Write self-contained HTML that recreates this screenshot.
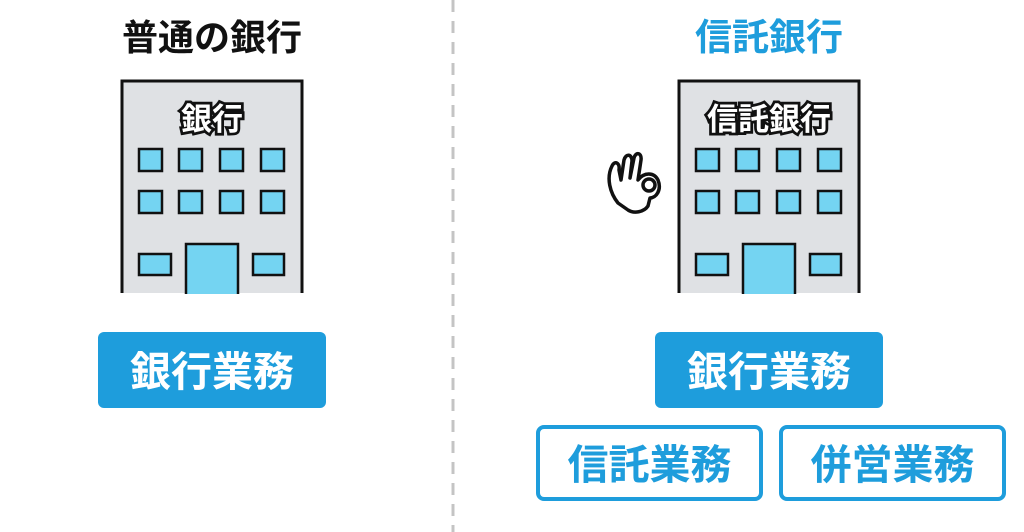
<!DOCTYPE html>
<html><head><meta charset="utf-8"><style>
html,body{margin:0;padding:0;background:#fff;}
svg{display:block;}
text{font-family:"Liberation Sans","Noto Sans CJK JP",sans-serif;font-weight:bold;}
</style></head><body>
<svg width="1024" height="532" viewBox="0 0 1024 532" xmlns="http://www.w3.org/2000/svg">
<rect width="1024" height="532" fill="#fff"/>
<line x1="453" y1="0" x2="453" y2="532" stroke="#c4c4c4" stroke-width="3" stroke-dasharray="12 9"/>
<text x="212" y="50" font-size="36" text-anchor="middle" fill="#111">普通の銀行</text>
<text x="769" y="50" font-size="37" text-anchor="middle" fill="#1e9ddc">信託銀行</text>

<g id="b1">
<path d="M122 293 L122 81 L302 81 L302 293" fill="#dfe1e4" stroke="#111" stroke-width="3"/>
<g fill="#74d4f2" stroke="#111" stroke-width="2.5">
<rect x="139" y="149" width="23" height="22"/><rect x="179" y="149" width="23" height="22"/><rect x="220" y="149" width="23" height="22"/><rect x="261" y="149" width="23" height="22"/>
<rect x="139" y="191" width="23" height="22"/><rect x="179" y="191" width="23" height="22"/><rect x="220" y="191" width="23" height="22"/><rect x="261" y="191" width="23" height="22"/>
<rect x="139" y="254" width="32" height="21"/><rect x="253" y="254" width="31" height="21"/>
<path d="M186 294 L186 244 L238 244 L238 294"/>
</g>
</g>
<text x="212" y="130" font-size="31" text-anchor="middle" fill="#fff" stroke="#111" stroke-width="5.5" paint-order="stroke">銀行</text>

<use href="#b1" x="557"/>
<text x="769" y="130" font-size="31" text-anchor="middle" fill="#fff" stroke="#111" stroke-width="5.5" paint-order="stroke">信託銀行</text>

<g fill="#fff" stroke="#111" stroke-width="3.5" stroke-linejoin="round">
<path d="M618 203 C610 193 606 178 612 166 C615 160 620 163 619 170 L621 180 L624 160 C626 153 632 154 632 161 L630 178 L634 158 C636 151 642 153 641 160 L638 180 C644 172 654 172 658 180 C662 190 656 198 650 198 L648 206 C644 212 634 214 628 210 Z"/>
<circle cx="649" cy="185" r="6"/>
</g>

<rect x="98" y="332" width="228" height="76" rx="6" fill="#1e9ddc"/>
<text x="212" y="386" font-size="41" text-anchor="middle" fill="#fff">銀行業務</text>
<rect x="655" y="332" width="228" height="76" rx="6" fill="#1e9ddc"/>
<text x="769" y="386" font-size="41" text-anchor="middle" fill="#fff">銀行業務</text>

<rect x="538" y="427" width="223" height="72" rx="6" fill="#fff" stroke="#1e9ddc" stroke-width="4"/>
<text x="649.5" y="479" font-size="41" text-anchor="middle" fill="#1e9ddc">信託業務</text>
<rect x="781" y="427" width="223" height="72" rx="6" fill="#fff" stroke="#1e9ddc" stroke-width="4"/>
<text x="892.5" y="479" font-size="41" text-anchor="middle" fill="#1e9ddc">併営業務</text>
</svg>
</body></html>
